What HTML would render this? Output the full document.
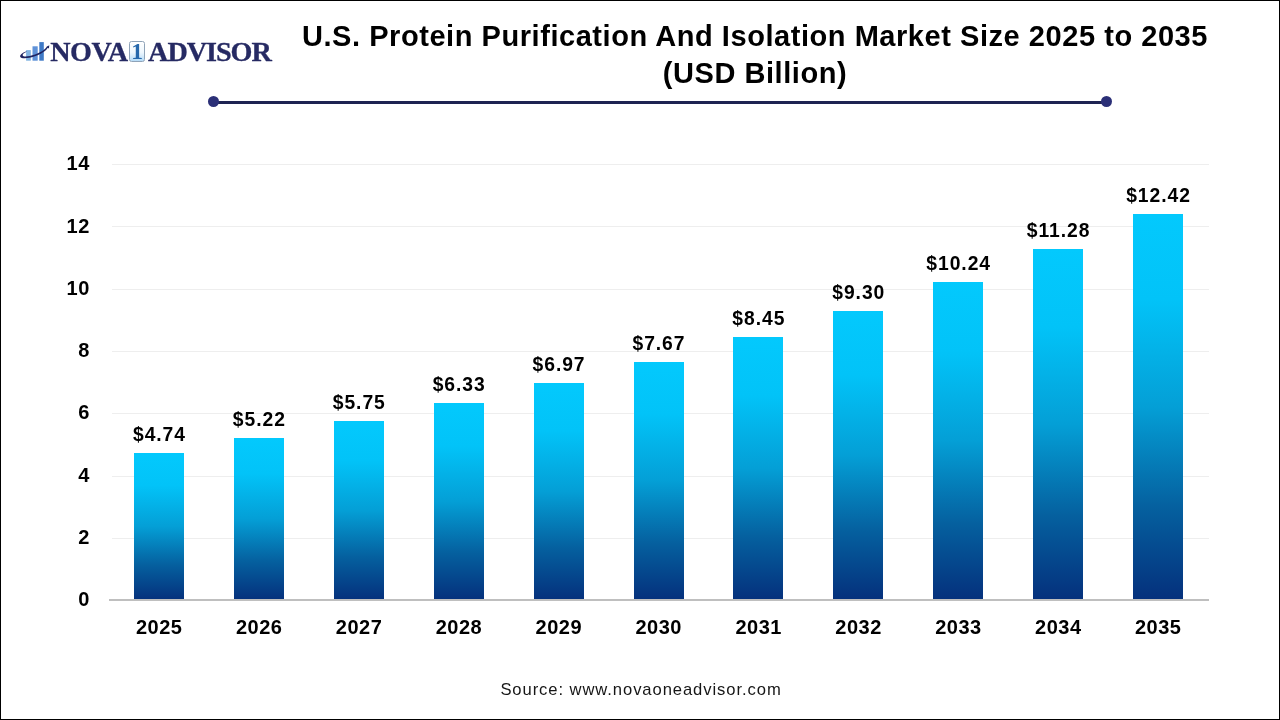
<!DOCTYPE html>
<html><head><meta charset="utf-8"><title>U.S. Protein Purification And Isolation Market Size 2025 to 2035</title>
<style>
html,body{margin:0;padding:0;background:#fff;}
body{width:1280px;height:720px;position:relative;overflow:hidden;font-family:"Liberation Sans",sans-serif;color:#000;}
.frame{position:absolute;left:0;top:0;width:1278px;height:718px;border:1px solid #000;box-sizing:content-box;}
.title{position:absolute;left:255px;width:1000px;top:18px;text-align:center;font-weight:bold;font-size:29px;line-height:37px;color:#000;letter-spacing:0.55px;}
.rule{position:absolute;left:213px;top:101px;width:893px;height:3px;background:#1e2352;}
.dot{position:absolute;width:11px;height:11px;border-radius:50%;background:#2b2f77;top:96px;}
.grid{position:absolute;left:112px;width:1097px;height:1px;background:#eeeeee;}
.base{position:absolute;left:109px;width:1100px;top:599px;height:2px;background:#bfbfbf;}
.yl{position:absolute;left:39.5px;width:50.3px;text-align:right;font-weight:bold;font-size:20px;line-height:24px;height:24px;letter-spacing:0.5px;}
.bar{position:absolute;width:50px;background:linear-gradient(to bottom,#03c9fd 0%,#02c3f8 22%,#049fd6 50%,#05609f 76%,#05307c 100%);}
.val{position:absolute;width:100px;text-align:center;font-weight:bold;font-size:19.3px;line-height:24px;letter-spacing:0.95px;text-indent:0.95px;}
.yr{position:absolute;width:100px;text-align:center;font-weight:bold;font-size:20px;line-height:24px;top:615px;letter-spacing:0.5px;text-indent:0.5px;}
.src{position:absolute;left:340px;width:600px;text-align:center;top:678.5px;font-size:16.6px;line-height:22px;color:#161616;letter-spacing:0.92px;text-indent:2px;}
.logo{position:absolute;left:0;top:0;font-family:"Liberation Serif",serif;font-weight:bold;color:#262a63;}
.logo span{position:absolute;white-space:nowrap;font-size:28.2px;line-height:32px;top:36.2px;transform-origin:0 0;-webkit-text-stroke:0.3px #262a63;}
.logo .one{position:absolute;left:129px;top:41px;width:14px;height:18.5px;border:1px solid #8fa3b8;border-radius:2.5px;background:linear-gradient(to bottom,#fff 0%,#eef7fe 55%,#b5dbf7 100%);}
.logo .one b{position:absolute;left:0;width:14px;text-align:center;top:-2.2px;font-size:23.5px;line-height:23.5px;color:#2668ac;}
.logo svg{position:absolute;left:16px;top:38px;}
</style></head><body>
<div class="frame"></div>
<div class="logo">
<svg width="36" height="26" viewBox="16 38 36 26">
<rect x="26.1" y="50.1" width="4.7" height="10.6" fill="#82b4e2"/>
<rect x="32.5" y="46.3" width="5.2" height="14.4" fill="#5f92d8"/>
<rect x="39.3" y="42.1" width="4.5" height="18.6" fill="#3f7ac6"/>
<path d="M26.3 51.2 C22.2 52.8 19.6 55 20.2 56.7 C21.2 59.2 28.5 58.6 35.5 56.1 C41.5 53.9 46.3 50.6 48.3 47 L47.2 46.6 C45 49.8 40.6 52.6 35 54.5 C29 56.6 23.4 57.2 22.7 55.5 C22.3 54.3 24 52.8 26.6 51.7 Z" fill="#1e2360"/>
<path d="M46.3 46.9 L49.3 45.3 L48.9 48.6 Z" fill="#1e2360"/>
</svg>
<span id="nova" style="left:50.3px;letter-spacing:-0.55px">NOVA</span>
<div class="one"><b>1</b></div>
<span id="adv" style="left:148.1px;letter-spacing:-1.05px">ADVISOR</span>
</div>
<div class="title">U.S. Protein Purification And Isolation Market Size 2025 to 2035<br>(USD Billion)</div>
<div class="rule"></div><div class="dot" style="left:208px"></div><div class="dot" style="left:1101px"></div>
<div class="yl" style="top:587.3px">0</div>
<div class="grid" style="top:538px"></div>
<div class="yl" style="top:525.0px">2</div>
<div class="grid" style="top:476px"></div>
<div class="yl" style="top:462.7px">4</div>
<div class="grid" style="top:413px"></div>
<div class="yl" style="top:400.4px">6</div>
<div class="grid" style="top:351px"></div>
<div class="yl" style="top:338.2px">8</div>
<div class="grid" style="top:289px"></div>
<div class="yl" style="top:275.9px">10</div>
<div class="grid" style="top:226px"></div>
<div class="yl" style="top:213.6px">12</div>
<div class="grid" style="top:164px"></div>
<div class="yl" style="top:151.3px">14</div>
<div class="bar" style="left:134.0px;top:453px;height:146.5px"></div>
<div class="val" style="left:109.0px;top:423px">$4.74</div>
<div class="yr" style="left:109.0px">2025</div>
<div class="bar" style="left:233.9px;top:438px;height:161.5px"></div>
<div class="val" style="left:208.9px;top:408px">$5.22</div>
<div class="yr" style="left:208.9px">2026</div>
<div class="bar" style="left:333.8px;top:421px;height:178.5px"></div>
<div class="val" style="left:308.8px;top:391px">$5.75</div>
<div class="yr" style="left:308.8px">2027</div>
<div class="bar" style="left:433.7px;top:403px;height:196.5px"></div>
<div class="val" style="left:408.7px;top:373px">$6.33</div>
<div class="yr" style="left:408.7px">2028</div>
<div class="bar" style="left:533.6px;top:383px;height:216.5px"></div>
<div class="val" style="left:508.6px;top:353px">$6.97</div>
<div class="yr" style="left:508.6px">2029</div>
<div class="bar" style="left:633.5px;top:362px;height:237.5px"></div>
<div class="val" style="left:608.5px;top:332px">$7.67</div>
<div class="yr" style="left:608.5px">2030</div>
<div class="bar" style="left:733.4px;top:337px;height:262.5px"></div>
<div class="val" style="left:708.4px;top:307px">$8.45</div>
<div class="yr" style="left:708.4px">2031</div>
<div class="bar" style="left:833.3px;top:311px;height:288.5px"></div>
<div class="val" style="left:808.3px;top:281px">$9.30</div>
<div class="yr" style="left:808.3px">2032</div>
<div class="bar" style="left:933.2px;top:282px;height:317.5px"></div>
<div class="val" style="left:908.2px;top:252px">$10.24</div>
<div class="yr" style="left:908.2px">2033</div>
<div class="bar" style="left:1033.1px;top:249px;height:350.5px"></div>
<div class="val" style="left:1008.1px;top:219px">$11.28</div>
<div class="yr" style="left:1008.1px">2034</div>
<div class="bar" style="left:1133.0px;top:214px;height:385.5px"></div>
<div class="val" style="left:1108.0px;top:184px">$12.42</div>
<div class="yr" style="left:1108.0px">2035</div>
<div class="base"></div>
<div class="src">Source: www.novaoneadvisor.com</div>
</body></html>
